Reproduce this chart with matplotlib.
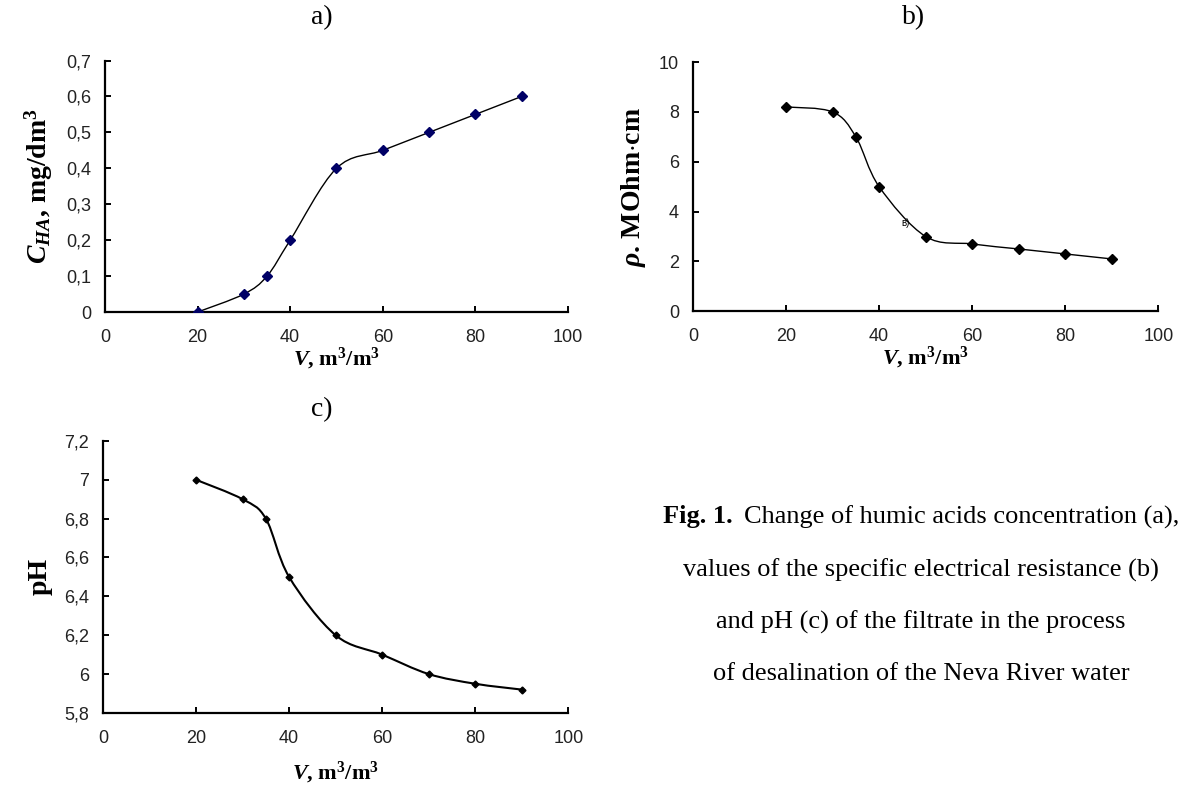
import numpy as np
import matplotlib
matplotlib.use("Agg")
import matplotlib.pyplot as plt
from matplotlib.path import Path
from matplotlib.patches import PathPatch
from matplotlib.ticker import FuncFormatter

# data
volume = [20, 30, 35, 40, 50, 60, 70, 80, 90]
c_ha = [0, 0.05, 0.1, 0.2, 0.4, 0.45, 0.5, 0.55, 0.6]
resistance = [8.2, 8.0, 7.0, 5.0, 3.0, 2.7, 2.5, 2.3, 2.1]
ph = [7.0, 6.9, 6.8, 6.5, 6.2, 6.1, 6.0, 5.95, 5.92]

x_ticks = [0, 20, 40, 60, 80, 100]
a_ticks = [0, 0.1, 0.2, 0.3, 0.4, 0.5, 0.6, 0.7]
b_ticks = [0, 2, 4, 6, 8, 10]
c_ticks = [5.8, 6.0, 6.2, 6.4, 6.6, 6.8, 7.0, 7.2]

caption_head = "Fig. 1."
caption_lines = [
    "Change of humic acids concentration (a),",
    "values of the specific electrical resistance (b)",
    "and pH (c) of the filtrate in the process",
    "of desalination of the Neva River water",
]

plt.rcParams['mathtext.fontset'] = 'custom'
plt.rcParams['mathtext.rm'] = 'Liberation Serif:bold'
plt.rcParams['mathtext.bf'] = 'Liberation Serif:bold'
plt.rcParams['mathtext.it'] = 'Liberation Serif:italic:bold'

SERIF = 'Liberation Serif'
SANS = 'Liberation Sans'
W, H = 1181, 786


def smooth_path(xs, ys):
    # Excel-like smoothed line: cubic Bezier through the points
    pts = np.column_stack([xs, ys]).astype(float)
    n = len(pts)
    verts = [pts[0]]
    codes = [Path.MOVETO]
    for i in range(n - 1):
        p0 = pts[i - 1] if i > 0 else pts[i]
        p1 = pts[i]
        p2 = pts[i + 1]
        p3 = pts[i + 2] if i + 2 < n else pts[i + 1]
        c1 = p1 + (p2 - p0) / 6.0
        c2 = p2 - (p3 - p1) / 6.0
        verts += [c1, c2, p2]
        codes += [Path.CURVE4] * 3
    return Path(verts, codes)


def comma_fmt(v, pos):
    return f"{round(v, 2):g}".replace('.', ',')


def panel(ax, ys, yticks, ylabel, mcolor, msize, lw, xpad):
    ax.add_patch(PathPatch(smooth_path(volume, ys), fill=False, color='black', lw=lw))
    ax.plot(volume, ys, ls='none', marker='D', ms=msize, color=mcolor, zorder=3)
    ax.set_xlim(0, 100)
    ax.set_ylim(yticks[0], yticks[-1])
    ax.set_xticks(x_ticks)
    ax.set_yticks(yticks)
    ax.yaxis.set_major_formatter(FuncFormatter(comma_fmt))
    for s in ['top', 'right']:
        ax.spines[s].set_visible(False)
    for s in ['left', 'bottom']:
        ax.spines[s].set_linewidth(1.6)
    ax.tick_params(direction='in', length=4, width=1.4, labelsize=13)
    ax.tick_params(axis='y', pad=10)
    ax.tick_params(axis='x', pad=12)
    for lab in ax.get_xticklabels() + ax.get_yticklabels():
        lab.set_fontfamily(SANS)
        lab.set_color('#222222')
    ax.set_xlabel(r"$V$, m$^3$/m$^3$", fontsize=16, fontfamily=SERIF,
                  fontweight='bold', labelpad=xpad)
    ax.set_ylabel(ylabel, fontsize=20, fontfamily=SERIF, fontweight='bold', labelpad=8)


fig = plt.figure(figsize=(11.81, 7.86), dpi=100)
ax_a = fig.add_axes([0.0889, 0.603, 0.392, 0.320])
ax_b = fig.add_axes([0.5868, 0.604, 0.394, 0.317])
ax_c = fig.add_axes([0.0872, 0.093, 0.394, 0.346])

panel(ax_a, c_ha, a_ticks, r"$C_{HA}$, mg/dm$^3$", '#000066', 5.5, 1.0, 0)
panel(ax_b, resistance, b_ticks, r"$\rho$. MOhm$\cdot$cm", 'black', 5.5, 1.0, 0)
panel(ax_c, ph, c_ticks, "pH", 'black', 3.5, 1.5, 10)

ax_b.text(45.6, 3.55, "в)", fontsize=7, fontfamily=SANS, ha='center', va='center')

# panel letters
for lbl, px, py in [("a)", 322, 18), ("b)", 914, 18), ("c)", 322, 410)]:
    fig.text(px / W, 1 - py / H, lbl, ha='center', va='center', fontsize=20, fontfamily=SERIF)

# caption: bold "Fig. 1." followed by regular text, centred as one line
cx = 921
line_y = [517, 570, 622, 674]
renderer = fig.canvas.get_renderer()
head = fig.text(0, 1 - line_y[0] / H, caption_head + " ", ha='left', va='center',
                fontsize=19, fontfamily=SERIF, fontweight='bold')
rest = fig.text(0, 1 - line_y[0] / H, caption_lines[0], ha='left', va='center',
                fontsize=19, fontfamily=SERIF)
wh = head.get_window_extent(renderer).width + 5
wr = rest.get_window_extent(renderer).width
x0 = cx - (wh + wr) / 2
head.set_x(x0 / W)
rest.set_x((x0 + wh) / W)
for txt, yy in zip(caption_lines[1:], line_y[1:]):
    fig.text(cx / W, 1 - yy / H, txt, ha='center', va='center', fontsize=19, fontfamily=SERIF)

fig.savefig("out.png", dpi=100, facecolor='white')
